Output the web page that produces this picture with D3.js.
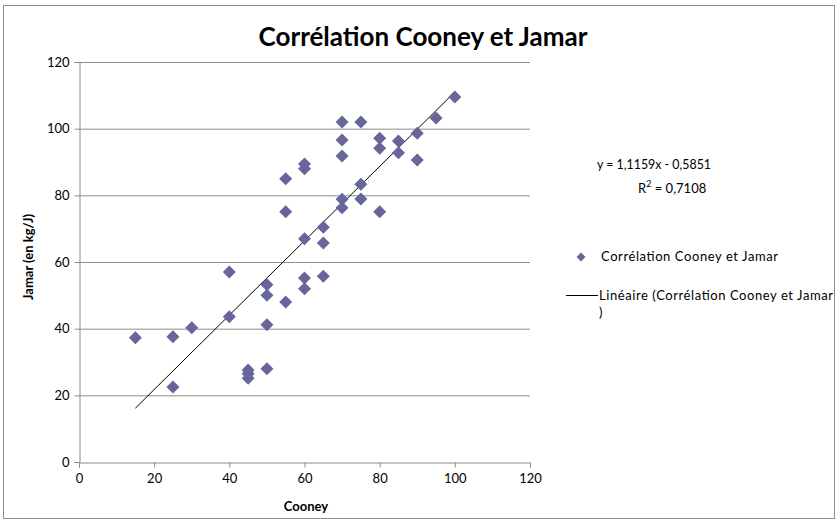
<!DOCTYPE html>
<html>
<head>
<meta charset="utf-8">
<script src="https://cdn.jsdelivr.net/npm/d3@7"></script>
<style>
  body { margin: 0; background: #fff; }
  text { font-family: Lato, "Open Sans", sans-serif; fill: #000; }
</style>
</head>
<body>
<div id="chart"></div>
<script>
// data
const cooney = [15, 25, 25, 30, 40, 40, 45, 45, 45, 50, 50, 50, 50, 55, 55, 55,
  60, 60, 60, 60, 60, 65, 65, 65, 70, 70, 70, 70, 70, 75, 75, 75, 80, 80, 80,
  85, 85, 90, 90, 95, 100];
const jamar = [37.3, 37.6, 22.5, 40.3, 57, 43.6, 27.6, 26.5, 25.1, 53.2, 50, 41.2, 28, 85, 75.1, 48,
  89.4, 88, 67, 55.2, 52, 70.4, 65.7, 55.7, 102, 96.6, 91.8, 78.8, 76.3, 102, 83.3, 78.9, 97.1, 94.1, 75.1,
  96.3, 92.8, 98.6, 90.6, 103.2, 109.5];
const slope = 1.1159, intercept = -0.5851;
const xTicks = [0, 20, 40, 60, 80, 100, 120];
const yTicks = [0, 20, 40, 60, 80, 100, 120];

const width = 839, height = 521;
const svg = d3.select('#chart').append('svg')
  .attr('width', width)
  .attr('height', height);

// chart border
svg.append('rect')
  .attr('x', 3.5).attr('y', 5.5)
  .attr('width', 831).attr('height', 513)
  .attr('fill', 'none')
  .attr('stroke', '#8c8c8c');

const x = d3.scaleLinear().domain([0, 120]).range([79, 530]);
const y = d3.scaleLinear().domain([0, 120]).range([462, 62]);

// gridlines
svg.append('g')
  .selectAll('line')
  .data(yTicks.filter(d => d > 0))
  .enter().append('line')
  .attr('x1', x(0)).attr('x2', x(120))
  .attr('y1', d => y(d) + 0.5).attr('y2', d => y(d) + 0.5)
  .attr('stroke', '#8c8c8c');

// axes
const xAxis = svg.append('g')
  .attr('transform', `translate(0,${y(0) + 0.5})`)
  .call(d3.axisBottom(x).tickValues(xTicks).tickSize(5).tickPadding(6));
const yAxis = svg.append('g')
  .attr('transform', `translate(${x(0) + 0.5},0)`)
  .call(d3.axisLeft(y).tickValues(yTicks).tickSize(5).tickPadding(5));
[xAxis, yAxis].forEach(g => {
  g.select('.domain').attr('stroke', '#8c8c8c');
  g.selectAll('.tick line').attr('stroke', '#8c8c8c');
  g.selectAll('.tick text').style('font-size', '13px').style('font-family', 'Lato, "Open Sans", sans-serif').attr('fill', '#000');
});

// trend line
svg.append('line')
  .attr('x1', x(15)).attr('y1', y(slope * 15 + intercept))
  .attr('x2', x(100)).attr('y2', y(slope * 100 + intercept))
  .attr('stroke', '#000')
  .attr('stroke-width', 1);

// points
const diamond = 'M0,-6.5L6.5,0L0,6.5L-6.5,0Z';
svg.append('g')
  .selectAll('path')
  .data(cooney.map((c, i) => [c, jamar[i]]))
  .enter().append('path')
  .attr('d', diamond)
  .attr('transform', d => `translate(${x(d[0])},${y(d[1])})`)
  .attr('fill', '#66669c');

// title and axis titles
svg.append('text')
  .attr('x', 423).attr('y', 46)
  .attr('text-anchor', 'middle')
  .style('font-size', '26px').style('font-weight', 'bold')
  .text('Corrélation Cooney et Jamar');
svg.append('text')
  .attr('x', 306).attr('y', 511)
  .attr('text-anchor', 'middle')
  .style('font-size', '13px').style('font-weight', 'bold')
  .text('Cooney');
svg.append('text')
  .attr('transform', 'translate(33,257) rotate(-90)')
  .attr('text-anchor', 'middle')
  .style('font-size', '13px').style('font-weight', 'bold')
  .text('Jamar (en kg/J)');

// equation
svg.append('text')
  .attr('x', 597).attr('y', 169)
  .attr('textLength', 114)
  .attr('lengthAdjust', 'spacingAndGlyphs')
  .style('font-size', '13px')
  .text('y = 1,1159x - 0,5851');
const r2 = svg.append('text')
  .attr('x', 638).attr('y', 193)
  .style('font-size', '13px');
r2.append('tspan').text('R');
r2.append('tspan').attr('dy', -6).style('font-size', '9px').text('2');
r2.append('tspan').attr('dy', 6).text(' = 0,7108');

// legend
svg.append('path')
  .attr('d', 'M0,-4.5L4.5,0L0,4.5L-4.5,0Z')
  .attr('transform', 'translate(581,257)')
  .attr('fill', '#66669c');
svg.append('text')
  .attr('x', 601).attr('y', 261)
  .attr('textLength', 177)
  .style('font-size', '13px')
  .text('Corrélation Cooney et Jamar');
svg.append('line')
  .attr('x1', 566).attr('x2', 598)
  .attr('y1', 295.5).attr('y2', 295.5)
  .attr('stroke', '#000');
svg.append('text')
  .attr('x', 599).attr('y', 300)
  .attr('textLength', 234)
  .style('font-size', '13px')
  .text('Linéaire (Corrélation Cooney et Jamar');
svg.append('text')
  .attr('x', 599).attr('y', 317)
  .style('font-size', '13px')
  .text(')');
</script>
</body>
</html>
